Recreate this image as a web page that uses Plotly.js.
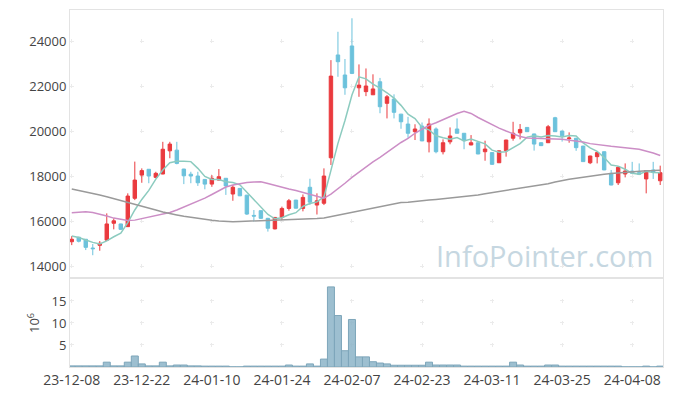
<!DOCTYPE html>
<html><head><meta charset="utf-8">
<script src="https://cdn.plot.ly/plotly-3.0.1.min.js"></script>
<style>html,body{margin:0;padding:0;background:#fff}</style>
</head><body><div id="chart" style="width:673px;height:396px"></div>
<script>
const dates = ['23-12-08','23-12-11','23-12-12','23-12-13','23-12-14','23-12-15','23-12-18','23-12-19','23-12-20','23-12-21',
'23-12-22','23-12-26','23-12-27','23-12-28','24-01-02','24-01-03','24-01-04','24-01-05','24-01-08','24-01-09',
'24-01-10','24-01-11','24-01-12','24-01-15','24-01-16','24-01-17','24-01-18','24-01-19','24-01-22','24-01-23',
'24-01-24','24-01-25','24-01-26','24-01-29','24-01-30','24-01-31','24-02-01','24-02-02','24-02-05','24-02-06',
'24-02-07','24-02-08','24-02-13','24-02-14','24-02-15','24-02-16','24-02-19','24-02-20','24-02-21','24-02-22',
'24-02-23','24-02-26','24-02-27','24-02-28','24-02-29','24-03-04','24-03-05','24-03-06','24-03-07','24-03-08',
'24-03-11','24-03-12','24-03-13','24-03-14','24-03-15','24-03-18','24-03-19','24-03-20','24-03-21','24-03-22',
'24-03-25','24-03-26','24-03-27','24-03-28','24-03-29','24-04-01','24-04-02','24-04-03','24-04-04','24-04-05',
'24-04-08','24-04-09','24-04-11','24-04-12','24-04-15'];

const open = [15080,15280,15190,14800,14920,15150,15900,15870,15750,17010,
18040,18300,17940,18090,19120,19150,18310,18080,18000,17850,
17640,17820,17900,17200,17450,17150,16250,16460,16120,15650,
16160,16560,16930,16560,17500,16710,16790,18810,23380,22490,
23780,21920,21750,21610,22190,21230,21420,20750,20310,19970,
20220,19520,20090,19080,19520,20090,19900,19380,19480,19080,
19040,18590,19120,19680,19920,20160,19870,19480,19480,20590,
20000,19660,19680,19330,18590,18860,19080,18120,17700,18090,
18220,18150,17870,18270,17790];
const high = [15330,15300,15200,14980,15110,16340,16120,15880,17230,18640,
18340,18310,18190,19520,19520,19520,18320,18190,18190,17860,
18040,18310,17910,17600,17460,17160,16490,16470,16140,16180,
16640,16980,16940,17180,17880,17230,18340,23150,24410,23200,
25010,22960,22780,22520,22360,21600,21630,20760,20630,20300,
20380,20560,20160,19630,20160,20560,19910,19820,19490,19570,
19050,19130,19610,20410,20310,20170,19880,19500,20270,20630,
20010,19940,19690,19340,18900,19080,19090,18270,18440,18560,
18630,18560,18250,18630,18460];
const low = [14930,15050,14710,14480,14680,15120,15630,15600,15740,16930,
17700,17680,17900,18080,18790,18520,17640,17680,17560,17410,
17520,17810,17160,16900,17110,16270,15970,16090,15530,15630,
16050,16460,16560,16430,16720,16290,16710,18490,22410,21610,
22530,21520,21550,21600,20790,20560,20560,20100,19700,19600,
19550,19050,19010,18960,19410,19890,19190,19370,18970,18680,
18490,18580,18860,19570,19630,19960,19130,19330,19470,19960,
19530,19480,19120,18630,18530,18560,18260,17590,17600,17940,
18110,18040,17230,17870,17600];
const close = [15190,15100,14830,14770,15010,15870,16010,15630,17110,17820,
18240,18000,18120,19190,19420,18560,18010,18000,17700,17640,
17900,17970,17560,17500,17120,16310,16220,16120,15680,16160,
16560,16900,16570,17050,16840,16900,18000,22440,23080,21920,
22560,22040,22000,21870,21080,21520,20830,20410,19900,20090,
19560,20310,19080,19480,19780,19900,19570,19480,18980,19200,
18520,19120,19600,19900,20070,19970,19420,19350,20190,19970,
19790,19690,19260,18640,18890,19040,18270,17600,18390,18220,
18120,18080,18240,18160,18150];

const ma5 = [15330,15270,15160,15050,14980,15120,15300,15460,15930,16490,
16960,17360,17860,18270,18590,18660,18660,18640,18340,17980,
17850,17840,17750,17710,17610,17290,16940,16650,16290,16100,
16150,16280,16370,16650,16780,16850,17070,18250,19450,20470,
21600,22410,22320,22080,21910,21700,21460,21140,20750,20550,
20160,20050,19790,19700,19640,19710,19560,19640,19540,19430,
19150,19060,19080,19270,19440,19730,19790,19740,19800,19780,
19740,19800,19780,19470,19250,19100,18820,18490,18440,18300,
18120,18080,18210,18160,18150];
const ma20 = [16370,16400,16410,16380,16310,16220,16130,16070,16020,16040,
16110,16160,16220,16290,16380,16490,16620,16760,16890,17020,
17180,17330,17510,17600,17670,17710,17730,17750,17670,17580,
17510,17420,17360,17270,17180,17080,17010,17200,17420,17680,
17940,18180,18410,18630,18830,19050,19280,19490,19670,19900,
20080,20250,20370,20510,20650,20780,20880,20780,20600,20440,
20290,20130,20000,19870,19760,19690,19670,19660,19640,19640,
19630,19600,19570,19510,19440,19390,19360,19320,19290,19270,
19220,19190,19110,19020,18910];
const ma60 = [17420,17360,17300,17240,17160,17080,17000,16920,16840,16760,
16670,16580,16490,16400,16320,16270,16210,16160,16110,16070,
16030,16000,15970,15970,15980,15990,15990,16000,16010,16020,
16040,16040,16060,16080,16100,16110,16130,16190,16250,16320,
16390,16450,16510,16580,16640,16700,16760,16820,16840,16880,
16900,16930,16960,16990,17010,17040,17070,17110,17160,17210,
17260,17310,17360,17410,17460,17510,17530,17600,17660,17730,
17810,17860,17900,17950,18000,18040,18080,18110,18140,18170,
18200,18210,18230,18240,18260];

// volume in millions of shares
const volume = [0.25,0.25,0.25,0.25,0.25,1.1,0.25,0.25,1.1,2.5,
0.7,0.25,0.25,1.1,0.25,0.45,0.45,0.25,0.25,0.2,
0.2,0.2,0.2,0.03,0.03,0.2,0.2,0.2,0.2,0.2,
0.2,0.45,0.2,0.2,0.7,0.2,1.8,18.2,11.7,3.7,
10.8,2.3,2.3,1.2,0.9,0.7,0.4,0.4,0.4,0.4,
0.4,1.1,0.45,0.45,0.45,0.45,0.2,0.2,0.2,0.2,
0.2,0.2,0.2,1.1,0.45,0.2,0.2,0.2,0.45,0.45,
0.2,0.2,0.2,0.2,0.2,0.2,0.2,0.2,0.2,0.03,
0.03,0.03,0.2,0.03,0.2];

const priceTicks = [14000,16000,18000,20000,22000,24000];
const volTicks = [5,10,15];
const tickDates = dates.filter((d,i)=>i%10===0);

const FONT = 'Open Sans, Noto Sans, sans-serif';
const GRID = '#ebebeb';
const BORDER = '#e3e3e3';

const traces = [
  {type:'candlestick', x:dates, open:open, high:high, low:low, close:close,
   xaxis:'x', yaxis:'y', showlegend:false, hoverinfo:'skip',
   increasing:{line:{color:'#ea3a3e',width:1}, fillcolor:'#ea3a3e'},
   decreasing:{line:{color:'#6cc2dc',width:1}, fillcolor:'#6cc2dc'}},
  {type:'scatter', mode:'lines', x:dates, y:ma5, xaxis:'x', yaxis:'y', showlegend:false,
   line:{color:'#8ccbbf', width:1.5}},
  {type:'scatter', mode:'lines', x:dates, y:ma20, xaxis:'x', yaxis:'y', showlegend:false,
   line:{color:'#cc8ec6', width:1.5}},
  {type:'scatter', mode:'lines', x:dates, y:ma60, xaxis:'x', yaxis:'y', showlegend:false,
   line:{color:'#9a9a9a', width:1.5}},
  {type:'bar', x:dates, y:volume, xaxis:'x2', yaxis:'y2', showlegend:false,
   marker:{color:'rgba(140,180,200,0.85)', line:{color:'#7ea6ba', width:1}}}
];

const layout = {
  width:673, height:396,
  margin:{l:70, r:10, t:10, b:29},
  paper_bgcolor:'#fff', plot_bgcolor:'#fff',
  font:{family:FONT, size:13, color:'#444'},
  bargap:0,
  xaxis:{type:'category', domain:[0,1], anchor:'y', range:[-0.25,84.4],
    rangeslider:{visible:false}, showticklabels:false, tickvals:tickDates,
    showgrid:true, gridcolor:GRID, griddash:'0px,29px,4px,41px,4px,41px,4px,41px,4px,41px,4px,41px,4px,100px',
    showline:true, linecolor:BORDER, mirror:true, ticks:'', zeroline:false},
  yaxis:{domain:[0.252,1], anchor:'x', range:[13511,25378], tickvals:priceTicks, tickformat:'d',
    showgrid:true, gridcolor:GRID, griddash:'3.75px,66.05px,0.25px,0px',
    showline:true, linecolor:BORDER, mirror:true, ticks:'', zeroline:false,
    tickfont:{size:13, color:'#444'}},
  xaxis2:{type:'category', domain:[0,1], anchor:'y2', range:[-0.25,84.4], matches:'x',
    tickvals:tickDates, ticktext:tickDates, tickangle:0,
    showgrid:true, gridcolor:GRID, griddash:'0px,20px,4px,18px,4px,18px,4px,100px',
    showline:true, linecolor:BORDER, mirror:true, ticks:'', zeroline:false,
    tickfont:{size:14, color:'#444'}},
  yaxis2:{domain:[0,0.2465], anchor:'x2', range:[0,20], tickvals:volTicks,
    showgrid:true, gridcolor:GRID, griddash:'3.75px,66.05px,0.25px,0px',
    showline:true, linecolor:BORDER, mirror:true, ticks:'', zeroline:false,
    title:{text:'10<sup>6</sup>', font:{size:13, color:'#444'}, standoff:8},
    tickfont:{size:13, color:'#444'}},
  annotations:[{xref:'paper', yref:'paper', x:0.987, y:0.312, xanchor:'right', yanchor:'middle',
    text:'InfoPointer.com', showarrow:false, font:{family:FONT, size:29, color:'#c6d7e1'}}]
};

Plotly.newPlot('chart', traces, layout, {displayModeBar:false, staticPlot:true});
</script>
</body></html>
